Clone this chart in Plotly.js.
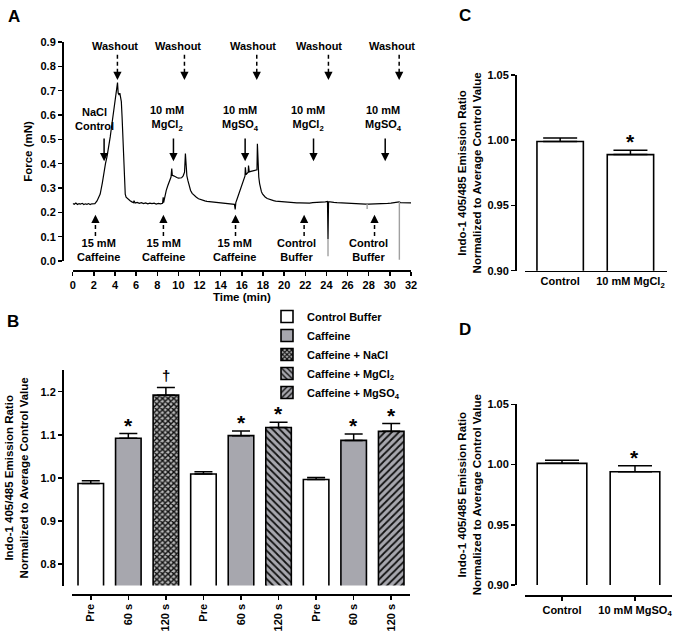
<!DOCTYPE html>
<html>
<head>
<meta charset="utf-8">
<script src="https://cdn.plot.ly/plotly-3.0.1.min.js"></script>
<style>html,body{margin:0;padding:0;background:#fff;}#chart{width:683px;height:635px;}</style>
</head>
<body>
<div id="chart"></div>
<script>
// ---------- Panel A: force trace ----------
const traceTime = [
  0, 0.15, 0.3, 0.45, 0.6, 0.75, 0.9, 1.05, 1.2, 1.35,
  1.5, 1.65, 1.8, 1.95, 2.1, 2.3, 2.45, 2.6, 2.8, 2.97,
  3.1, 3.25, 3.4, 3.55, 3.7, 3.85, 4.0, 4.12, 4.2, 4.24,
  4.3, 4.39, 4.46, 4.54, 4.6, 4.67, 4.74, 4.8, 4.89, 4.97,
  5.05, 5.2, 5.43, 5.6, 5.75, 5.8, 5.9, 6.1, 6.3, 6.5,
  6.7, 6.9, 7.1, 7.3, 7.5, 7.7, 7.9, 8.1, 8.3, 8.5,
  8.56, 8.6, 8.7, 8.85, 9.0, 9.15, 9.3, 9.37, 9.42, 9.55,
  9.7, 9.85, 10.0, 10.15, 10.3, 10.45, 10.58, 10.66, 10.72, 10.8,
  10.9, 11.0, 11.15, 11.3, 11.5, 11.7, 11.9, 12.1, 12.3, 12.5,
  12.7, 12.9, 13.1, 13.3, 13.5, 13.7, 13.9, 14.1, 14.3, 14.5,
  14.7, 14.9, 15.1, 15.3, 15.37, 15.43, 15.55, 15.7, 15.85, 16.0,
  16.15, 16.3, 16.33, 16.4, 16.5, 16.6, 16.63, 16.7, 16.85, 17.0,
  17.15, 17.3, 17.43, 17.47, 17.52, 17.6, 17.68, 17.76, 17.85, 17.95,
  18.05, 18.2, 18.4, 18.6, 18.8, 19.0, 19.2, 19.4, 19.6, 19.8,
  20.0, 20.3, 20.6, 20.9, 21.2, 21.5, 21.8, 22.1, 22.4, 22.7,
  23.0, 23.3, 23.6, 23.9, 24.1, 24.15, 24.2, 24.4, 24.7, 25.0,
  25.3, 25.6, 25.9, 26.2, 26.5, 26.8, 27.1, 27.4, 27.7, 28.0,
  28.3, 28.6, 28.9, 29.2, 29.5, 29.8, 30.1, 30.4, 30.7, 30.88,
  31.0, 31.3, 31.6, 32.0
];
const traceForce = [
  0.236, 0.233, 0.238, 0.232, 0.236, 0.234, 0.237, 0.232, 0.235, 0.233,
  0.236, 0.232, 0.235, 0.234, 0.236, 0.247, 0.258, 0.275, 0.320, 0.375,
  0.400, 0.430, 0.465, 0.510, 0.560, 0.610, 0.655, 0.690, 0.705, 0.733,
  0.690, 0.682, 0.690, 0.675, 0.655, 0.593, 0.510, 0.430, 0.310, 0.275,
  0.262, 0.255, 0.248, 0.243, 0.240, 0.248, 0.238, 0.241, 0.237, 0.240,
  0.236, 0.239, 0.235, 0.238, 0.236, 0.238, 0.234, 0.237, 0.235, 0.237,
  0.262, 0.240, 0.262, 0.290, 0.310, 0.330, 0.345, 0.380, 0.352, 0.350,
  0.345, 0.343, 0.341, 0.340, 0.342, 0.350, 0.365, 0.442, 0.370, 0.350,
  0.330, 0.310, 0.290, 0.278, 0.268, 0.262, 0.256, 0.252, 0.250, 0.247,
  0.245, 0.244, 0.243, 0.241, 0.240, 0.239, 0.238, 0.237, 0.236, 0.236,
  0.235, 0.235, 0.234, 0.233, 0.212, 0.240, 0.255, 0.275, 0.295, 0.315,
  0.335, 0.350, 0.385, 0.355, 0.360, 0.365, 0.392, 0.366, 0.368, 0.370,
  0.372, 0.373, 0.375, 0.482, 0.372, 0.345, 0.318, 0.300, 0.285, 0.276,
  0.270, 0.263, 0.257, 0.253, 0.250, 0.248, 0.246, 0.245, 0.244, 0.243,
  0.242, 0.241, 0.240, 0.240, 0.239, 0.239, 0.238, 0.239, 0.238, 0.240,
  0.240, 0.241, 0.242, 0.243, 0.245, 0.090, 0.244, 0.242, 0.241, 0.240,
  0.239, 0.238, 0.237, 0.237, 0.236, 0.235, 0.235, 0.234, 0.234, 0.234,
  0.234, 0.235, 0.235, 0.236, 0.236, 0.237, 0.238, 0.239, 0.241, 0.243,
  0.240, 0.240, 0.239, 0.239
];
const grayTime  = [24.15, 24.15, null, 27.85, 27.85, null, 30.9, 30.9];
const grayForce = [0.090, 0.020, null, 0.234, 0.214, null, 0.243, 0.005];

const washoutTimes = [4.23, 10.57, 17.41, 24.19, 30.88];
const washoutLabelTimes = [4.0, 10.0, 17.03, 23.34, 30.19];
const treatTimes = [2.97, 9.53, 16.31, 22.78, 29.56];
const treatLabelTimes = [2.05, 8.9, 15.84, 22.3, 29.4];
const treatLabels = ['NaCl<br>Control', '10 mM<br>MgCl<sub>2</sub>', '10 mM<br>MgSO<sub>4</sub>', '10 mM<br>MgCl<sub>2</sub>', '10 mM<br>MgSO<sub>4</sub>'];
const startTimes = [2.15, 8.58, 15.4, 21.89, 28.55];
const startLabelTimes = [2.43, 8.58, 15.3, 21.2, 28.0];
const startLabels = ['15 mM<br>Caffeine', '15 mM<br>Caffeine', '15 mM<br>Caffeine', 'Control<br>Buffer', 'Control<br>Buffer'];

// ---------- Panel B ----------
const bLabels = ['Pre', '60 s', '120 s', 'Pre', '60 s', '120 s', 'Pre', '60 s', '120 s'];
const bGroups = ['Control Buffer', 'Caffeine', 'Caffeine + NaCl', 'Control Buffer', 'Caffeine', 'Caffeine + MgCl2', 'Control Buffer', 'Caffeine', 'Caffeine + MgSO4'];
const bValues = [0.987, 1.092, 1.192, 1.009, 1.098, 1.117, 0.996, 1.087, 1.108];
const bErrors = [0.006, 0.011, 0.018, 0.005, 0.011, 0.012, 0.005, 0.015, 0.018];
const bMarks  = ['', '*', '†', '', '*', '*', '', '*', '*'];
const legendOrder = ['Control Buffer', 'Caffeine', 'Caffeine + NaCl', 'Caffeine + MgCl2', 'Caffeine + MgSO4'];
const legendNames = ['Control Buffer', 'Caffeine', 'Caffeine + NaCl', 'Caffeine + MgCl<sub>2</sub>', 'Caffeine + MgSO<sub>4</sub>'];

// ---------- Panel C ----------
const cLabels = ['Control', '10 mM MgCl<sub>2</sub>'];
const cValues = [0.999, 0.989];
const cErrors = [0.0027, 0.0033];
const cMarks  = ['', '*'];

// ---------- Panel D ----------
const dLabels = ['Control', '10 mM MgSO<sub>4</sub>'];
const dValues = [1.001, 0.994];
const dErrors = [0.0025, 0.0050];
const dMarks  = ['', '*'];

// ---------- styles ----------
const FONT = 'Liberation Sans, Arial, Helvetica, sans-serif';
const GRAY = '#a7a7ae';
const OUT = {color: 'black', width: 1.6};
const groupStyle = {
  'Control Buffer':   {color: 'white'},
  'Caffeine':         {color: GRAY},
  'Caffeine + NaCl':  {color: GRAY, pattern: {shape: 'x', fgcolor: '#111', bgcolor: '#b8b8b8', size: 4, solidity: 0.6}},
  'Caffeine + MgCl2': {color: GRAY, pattern: {shape: '\\', fgcolor: '#111', bgcolor: GRAY, size: 5, solidity: 0.35}},
  'Caffeine + MgSO4': {color: GRAY, pattern: {shape: '/', fgcolor: '#111', bgcolor: GRAY, size: 5, solidity: 0.35}}
};
const errStyle = {type: 'data', symmetric: false, color: 'black', thickness: 1.5, width: 9};

const traces = [];
traces.push({x: traceTime, y: traceForce, xaxis: 'x', yaxis: 'y', type: 'scatter', mode: 'lines',
  line: {color: 'black', width: 1.2}, showlegend: false, hoverinfo: 'skip'});
traces.push({x: grayTime, y: grayForce, xaxis: 'x', yaxis: 'y', type: 'scatter', mode: 'lines',
  line: {color: '#a0a0a0', width: 1.4}, showlegend: false, hoverinfo: 'skip', connectgaps: false});

legendOrder.forEach((g, gi) => {
  const idx = bGroups.map((v, i) => v === g ? i : -1).filter(i => i >= 0);
  const st = groupStyle[g];
  const marker = {color: st.color, line: OUT};
  if (st.pattern) marker.pattern = st.pattern;
  traces.push({type: 'bar', xaxis: 'x2', yaxis: 'y2', name: legendNames[gi],
    x: idx, y: idx.map(i => bValues[i]), width: 0.68, marker: marker,
    error_y: Object.assign({array: idx.map(i => bErrors[i]), arrayminus: idx.map(() => 0)}, errStyle)});
});

traces.push({type: 'bar', xaxis: 'x3', yaxis: 'y3', showlegend: false, x: [0, 1], y: cValues, width: 0.66,
  marker: {color: ['white', 'white'], line: OUT, pattern: {shape: ['', '\\'], fgcolor: '#111', bgcolor: 'white', size: 5, solidity: 0.3}},
  error_y: Object.assign({array: cErrors, arrayminus: [0, 0]}, errStyle, {width: 17})});
traces.push({type: 'bar', xaxis: 'x4', yaxis: 'y4', showlegend: false, x: [0, 1], y: dValues, width: 0.68,
  marker: {color: ['white', 'white'], line: OUT, pattern: {shape: ['', '/'], fgcolor: '#111', bgcolor: 'white', size: 5, solidity: 0.3}},
  error_y: Object.assign({array: dErrors, arrayminus: [0, 0]}, errStyle, {width: 17})});

// ---------- annotations & shapes ----------
const ann = [];
const shapes = [];
const txt = (o) => Object.assign({showarrow: false, font: {size: 11, family: FONT, color: 'black', weight: 'bold'}}, o);

// panel letters
[['A', 13.5, 16], ['B', 13, 321], ['C', 465, 15.5], ['D', 465, 329]].forEach(([t, px, py]) => {
  ann.push(txt({text: t, xref: 'paper', yref: 'paper', x: px / 683, y: 1 - py / 635, xanchor: 'center', yanchor: 'middle',
    font: {size: 17, family: FONT, color: 'black', weight: 'bold'}}));
});

// washout dashed arrows + labels
washoutTimes.forEach((t, i) => {
  shapes.push({type: 'line', xref: 'x', yref: 'y', x0: t, x1: t, y0: 0.848, y1: 0.77, line: {color: 'black', width: 1.5, dash: '4px,3px'}});
  ann.push({xref: 'x', yref: 'y', x: t, y: 0.744, ax: 0, ay: -9, showarrow: true, arrowhead: 2, arrowsize: 1.1, arrowwidth: 1.5, arrowcolor: 'black', text: ''});
  ann.push(txt({text: 'Washout', xref: 'x', yref: 'y', x: washoutLabelTimes[i], y: 0.884, xanchor: 'center', yanchor: 'middle'}));
});
// treatment solid arrows + labels
treatTimes.forEach((t, i) => {
  ann.push({xref: 'x', yref: 'y', x: t, y: 0.41, axref: 'x', ayref: 'y', ax: t, ay: 0.51, showarrow: true, arrowhead: 2, arrowsize: 1.1, arrowwidth: 1.5, arrowcolor: 'black', text: ''});
  ann.push(txt({text: treatLabels[i], xref: 'x', yref: 'y', x: treatLabelTimes[i], y: 0.585, xanchor: 'center', yanchor: 'middle'}));
});
// start dashed up arrows + labels
startTimes.forEach((t, i) => {
  shapes.push({type: 'line', xref: 'x', yref: 'y', x0: t, x1: t, y0: 0.103, y1: 0.17, line: {color: 'black', width: 1.5, dash: '4px,3px'}});
  ann.push({xref: 'x', yref: 'y', x: t, y: 0.19, ax: 0, ay: 9, showarrow: true, arrowhead: 2, arrowsize: 1.1, arrowwidth: 1.5, arrowcolor: 'black', text: ''});
  ann.push(txt({text: startLabels[i], xref: 'x', yref: 'y', x: startLabelTimes[i], y: 0.044, xanchor: 'center', yanchor: 'middle'}));
});

// significance marks
const markAnn = (xa, ya, i, v, e, m) => {
  if (!m) return;
  const isDagger = m === '†';
  ann.push(txt({text: m, xref: xa, yref: ya, x: i, y: v + e, xanchor: 'center', yanchor: 'bottom',
    yshift: isDagger ? 1 : -5, font: {size: isDagger ? 15 : 21, family: FONT, color: 'black', weight: 'bold'}}));
};
bMarks.forEach((m, i) => markAnn('x2', 'y2', i, bValues[i], bErrors[i], m));
cMarks.forEach((m, i) => markAnn('x3', 'y3', i, cValues[i], cErrors[i], m));
dMarks.forEach((m, i) => markAnn('x4', 'y4', i, dValues[i], dErrors[i], m));

const axBase = {showline: true, linecolor: 'black', linewidth: 1.5, ticks: 'outside', ticklen: 4, tickwidth: 1.5,
  tickcolor: 'black', showgrid: false, zeroline: false, anchor: 'free', fixedrange: true,
  tickfont: {size: 11, family: FONT, color: '#000000', weight: 'bold'}};
const ttl = (text, standoff) => ({text: text, standoff: standoff, font: {size: 11.5, family: FONT, color: 'black', weight: 'bold'}});
const yTitle2 = 'Indo-1 405/485 Emission Ratio<br>Normalized to Average Control Value';

const layout = {
  width: 683, height: 635, margin: {l: 0, r: 0, t: 0, b: 0},
  paper_bgcolor: 'white', plot_bgcolor: 'white',
  font: {family: FONT, size: 11, color: 'black', weight: 'bold'},
  barmode: 'overlay', showlegend: true,
  legend: {x: 267 / 683, y: 1 - 302 / 635, xanchor: 'left', yanchor: 'top', bgcolor: 'rgba(0,0,0,0)',
    font: {size: 11, family: FONT, color: 'black', weight: 'bold'}, traceorder: 'normal'},
  xaxis: Object.assign({}, axBase, {domain: [72.7 / 683, 411 / 683], range: [0, 32], position: 1 - 270 / 635,
    tick0: 0, dtick: 2, title: ttl('Time (min)', 1)}),
  yaxis: Object.assign({}, axBase, {domain: [1 - 261 / 635, 1 - 42 / 635], range: [0, 0.9], position: 62 / 683,
    tick0: 0, dtick: 0.1, tickformat: '.1f', title: ttl('Force (mN)', 4)}),
  xaxis2: Object.assign({}, axBase, {domain: [72 / 683, 410 / 683], range: [-0.5, 8.5], position: 1 - 594 / 635,
    tickmode: 'array', tickvals: bLabels.map((_, i) => i), ticktext: bLabels, tickangle: -90}),
  yaxis2: Object.assign({}, axBase, {domain: [1 - 585.5 / 635, 1 - 370.2 / 635], range: [0.75, 1.25], position: 62 / 683,
    tickmode: 'array', tickvals: [0.8, 0.9, 1.0, 1.1, 1.2], tickformat: '.1f', title: ttl(yTitle2, 8)}),
  xaxis3: Object.assign({}, axBase, {domain: [525 / 683, 667 / 683], range: [-0.5, 1.52], position: 1 - 270.7 / 635,
    tickmode: 'array', tickvals: [0, 1], ticktext: cLabels, ticks: '', ticklen: 0}),
  yaxis3: Object.assign({}, axBase, {domain: [1 - 270.7 / 635, 1 - 75 / 635], range: [0.9, 1.05], position: 515 / 683,
    tickmode: 'array', tickvals: [0.90, 0.95, 1.00, 1.05], tickformat: '.2f', title: ttl(yTitle2, 2)}),
  xaxis4: Object.assign({}, axBase, {domain: [525 / 683, 671.7 / 683], range: [-0.507, 1.503], position: 1 - 595 / 635,
    tickmode: 'array', tickvals: [0, 1], ticktext: dLabels}),
  yaxis4: Object.assign({}, axBase, {domain: [1 - 585 / 635, 1 - 404.3 / 635], range: [0.9, 1.05], position: 515 / 683,
    tickmode: 'array', tickvals: [0.90, 0.95, 1.00, 1.05], tickformat: '.2f', title: ttl(yTitle2, 2)}),
  annotations: ann,
  shapes: shapes
};

Plotly.newPlot('chart', traces, layout, {staticPlot: true, displayModeBar: false});
</script>
</body>
</html>
